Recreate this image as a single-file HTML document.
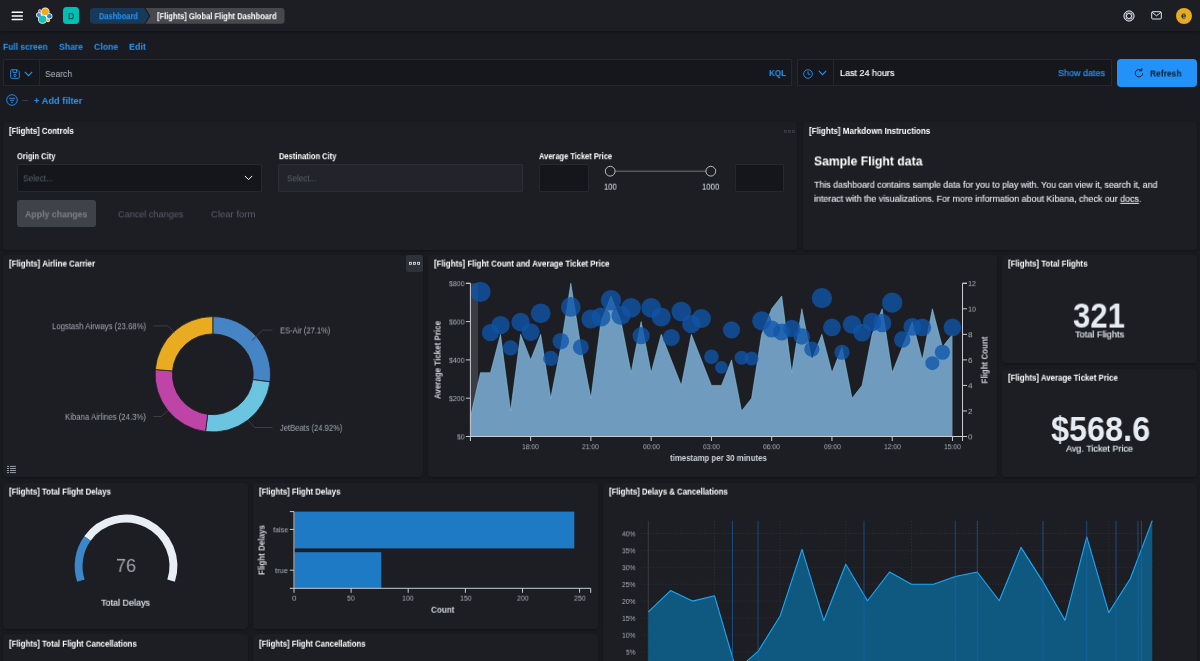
<!DOCTYPE html>
<html lang="en">
<head>
<meta charset="utf-8">
<title>[Flights] Global Flight Dashboard - Kibana</title>
<style>
*{box-sizing:border-box;margin:0;padding:0}
html,body{width:1200px;height:661px;overflow:hidden;background:#1a1b20;color:#dfe5ef;
  font-family:"Liberation Sans",sans-serif;font-size:9px;-webkit-font-smoothing:antialiased}
.abs{position:absolute}
#app{position:relative;width:1200px;height:661px;overflow:hidden}
/* header */
#hdr{position:absolute;left:0;top:0;width:1200px;height:31px;background:#1d1e24;box-shadow:0 1px 3px rgba(0,0,0,.45)}
.t{position:absolute;white-space:nowrap;line-height:1;will-change:transform;transform-origin:2px 50%;padding:1px 2px;margin:-1px -2px}
.link{color:#2394f8}
.b{font-weight:700}
.panel{position:absolute;background:#1d1e24;border-radius:4px;box-shadow:0 1px 3px rgba(0,0,0,.35);overflow:hidden}
.field{position:absolute;background:#16171c;border:1px solid #26282f;border-radius:1px}
svg{position:absolute;overflow:visible}
svg text{font-family:"Liberation Sans",sans-serif}
</style>
</head>
<body>
<div id="app">

<!-- ===== HEADER ===== -->
<div id="hdr">
  <svg style="left:10.800px;top:11.200px" width="13" height="10" viewBox="0 0 13 10"><g fill="#fff"><rect x="0.5" y="0.6" width="11.5" height="1.5" rx=".7"/><rect x="0.5" y="4.2" width="11.5" height="1.5" rx=".7"/><rect x="0.5" y="7.8" width="11.5" height="1.5" rx=".7"/></g></svg>
  <!-- elastic logo -->
  <svg style="left:0;top:0" width="60" height="31" viewBox="0 0 60 31">
    <circle cx="45.25" cy="11.75" r="4.30" fill="#fff"/>
    <circle cx="42.5" cy="19.2" r="4.50" fill="#fff"/>
    <circle cx="38.9" cy="15" r="2.80" fill="#fff"/>
    <circle cx="49.4" cy="16.3" r="3.00" fill="#fff"/>
    <circle cx="39.9" cy="11" r="1.70" fill="#fff"/>
    <circle cx="48" cy="20.3" r="2.00" fill="#fff"/>
    <circle cx="44.3" cy="15.6" r="3.5" fill="#fff"/>
    <circle cx="45.25" cy="11.75" r="3.6" fill="#f0ad1f"/>
    <circle cx="42.5" cy="19.2" r="3.8" fill="#18c3b3"/>
    <circle cx="38.9" cy="15" r="2.1" fill="#2a8fee"/>
    <circle cx="49.4" cy="16.3" r="2.3" fill="#2f7fd6"/>
    <circle cx="39.9" cy="11" r="1.0" fill="#d63fae"/>
    <circle cx="48" cy="20.3" r="1.3" fill="#f0ad1f"/>
  </svg>
  <div class="abs" style="left:63.1px;top:7.200px;width:16.400px;height:16.800px;border-radius:3.500px;background:#00bfb3"></div>
  <!-- breadcrumbs -->
  <svg style="left:90px;top:7.700px" width="200" height="16" viewBox="0 0 200 16">
    <path d="M4 0H54L59 7.900L54 15.800H4Q0 15.800 0 11.800V4Q0 0 4 0Z" fill="#173a5a"/>
    <path d="M55.500 0H191.500Q194.500 0 194.500 3V12.800Q194.500 15.800 191.500 15.800H55.500L60.500 7.900Z" fill="#47484e"/>
  </svg>
  <!-- right icons -->
  <svg style="left:1123.300px;top:9.600px" width="12" height="12" viewBox="0 0 12 12" fill="none" stroke="#dfe5ef" stroke-width="1"><circle cx="6" cy="6" r="3.900" stroke="#aeb3bd" stroke-opacity=".4" stroke-width="1.800"/><circle cx="6" cy="6" r="5.100"/><circle cx="6" cy="6" r="2.600"/><path d="M2.400 2.400l2 2M9.600 2.400l-2 2M2.400 9.600l2-2M9.600 9.600l-2-2" stroke-width=".7"/></svg>
  <svg style="left:1150.800px;top:11.400px" width="12" height="10" viewBox="0 0 12 10" fill="none" stroke="#dfe5ef" stroke-width="1"><rect x=".7" y=".7" width="9.600" height="7.300" rx="1"/><path d="M1 1.200l4.500 3.600 4.500-3.600"/></svg>
  <div class="abs" style="left:1175.500px;top:7.800px;width:16px;height:16px;border-radius:8px;background:#e7ab22"></div>
</div>

<!-- HDRTXT -->

<!-- ===== QUERY BAR ===== -->
<div class="field" style="left:2.9px;top:59.3px;width:788.8px;height:26.7px"></div>
<div class="abs" style="left:38.800px;top:60.3px;width:1px;height:24.7px;background:#24262d"></div>
<svg style="left:10px;top:68.5px" width="10" height="10" viewBox="0 0 10 10" fill="none" stroke="#2394f8" stroke-width=".9"><path d="M.7 1.5Q.7.7 1.5.7H7.2L9.3 2.8V8.5Q9.3 9.3 8.5 9.3H1.500Q.7 9.300.7 8.5Z"/><path d="M3 .9V3.600H6.600V.9"/><circle cx="5" cy="6.400" r="1.1"/></svg>
<svg style="left:24px;top:71px" width="9" height="6" viewBox="0 0 9 6" fill="none" stroke="#2394f8" stroke-width="1.1"><path d="M.8.900l3.700 3.700L8.200.9"/></svg>

<!-- date picker -->
<div class="field" style="left:797.2px;top:59.3px;width:315px;height:26.7px"></div>
<div class="abs" style="left:833px;top:60.3px;width:1px;height:24.7px;background:#24262d"></div>
<svg style="left:803.3px;top:68.700px" width="10" height="10" viewBox="0 0 10 10" fill="none" stroke="#2394f8" stroke-width=".9"><circle cx="5" cy="5" r="4.300"/><path d="M5 2.300V5.200H7.300"/></svg>
<svg style="left:817.700px;top:70px" width="9" height="6" viewBox="0 0 9 6" fill="none" stroke="#2394f8" stroke-width="1.1"><path d="M.8.900l3.700 3.700L8.200.9"/></svg>

<!-- refresh -->
<div class="abs" style="left:1117.1px;top:58.800px;width:80.200px;height:27.800px;border-radius:4px;background:#2292f9"></div>
<svg style="left:1134px;top:67.600px" width="10" height="10" viewBox="0 0 10 10" fill="none" stroke="#0b1b2c" stroke-width="1"><path d="M8.700 5.200A3.700 3.700 0 1 1 7.300 2.300"/><path d="M7.800.3V2.800H5.300" /></svg>

<!-- filter row -->
<svg style="left:6px;top:94px" width="12" height="12" viewBox="0 0 12 12" fill="none" stroke="#2394f8" stroke-width=".9"><circle cx="6" cy="6" r="5.300"/><path d="M3 4.300H9M4 6.300H8M5.200 8.300H6.800"/></svg>
<div class="abs" style="left:22px;top:99.500px;width:6px;height:1px;background:#3a3c45"></div>

<!-- PANELS_BEGIN -->
<div class="t" style="left:68.38px;top:12px;font-size:8.63px;color:#16223f;transform:translateY(0.19px) rotate(.02deg);-webkit-text-stroke:0.1px #16223f;">D</div>
<div class="t" style="left:98.75px;top:12px;font-size:8.42px;color:#2394f8;transform:translateY(0.21px) rotate(.02deg) scaleX(0.8868);font-weight:700;">Dashboard</div>
<div class="t" style="left:157.00px;top:12px;font-size:8.42px;color:#fff;transform:translateY(0.21px) rotate(.02deg) scaleX(0.8983);font-weight:700;">[Flights] Global Flight Dashboard</div>
<div class="t" style="left:1181.14px;top:10px;font-size:9.57px;color:#1b2748;transform:translateY(0.63px) rotate(.02deg);font-weight:700;">e</div>
<div class="t" style="left:3.40px;top:42px;font-size:8.94px;color:#2394f8;transform:translateY(0.80px) rotate(.02deg) scaleX(0.9470);font-weight:700;">Full screen</div>
<div class="t" style="left:59.00px;top:42px;font-size:8.94px;color:#2394f8;transform:translateY(0.80px) rotate(.02deg) scaleX(0.9699);font-weight:700;">Share</div>
<div class="t" style="left:94.00px;top:42px;font-size:8.94px;color:#2394f8;transform:translateY(0.80px) rotate(.02deg) scaleX(0.9785);font-weight:700;">Clone</div>
<div class="t" style="left:129.20px;top:42px;font-size:8.94px;color:#2394f8;transform:translateY(0.80px) rotate(.02deg) scaleX(0.9949);font-weight:700;">Edit</div>
<div class="t" style="left:45.00px;top:69px;font-size:9.36px;color:#b4b9c4;transform:translateY(0.95px) rotate(.02deg) scaleX(0.9171);">Search</div>
<div class="t" style="left:768.50px;top:69px;font-size:8.63px;color:#2394f8;transform:translateY(0.09px) rotate(.02deg) scaleX(0.9332);font-weight:700;">KQL</div>
<div class="t" style="left:839.50px;top:69px;font-size:9.36px;color:#fff;transform:translateY(0.05px) rotate(.02deg) scaleX(0.9609);-webkit-text-stroke:0.15px #fff;">Last 24 hours</div>
<div class="t" style="left:1058.00px;top:69px;font-size:9.36px;color:#2394f8;transform:translateY(0.15px) rotate(.02deg) scaleX(0.9609);-webkit-text-stroke:0.2px #2394f8;">Show dates</div>
<div class="t" style="left:1149.50px;top:69px;font-size:9.15px;color:#0b1b2c;transform:translateY(0.58px) rotate(.02deg) scaleX(0.9245);font-weight:700;">Refresh</div>
<div class="t" style="left:34.00px;top:96px;font-size:8.94px;color:#2394f8;transform:translateY(0.90px) rotate(.02deg) scaleX(1.0384);font-weight:700;">+ Add filter</div>
<div class="panel" style="left:3.2px;top:122px;width:794.2px;height:127.5px"></div>
<div class="panel" style="left:802.6px;top:122px;width:394.4px;height:127.5px"></div>
<div class="panel" style="left:3.2px;top:254.6px;width:419.6px;height:222.8px"></div>
<div class="panel" style="left:427.9px;top:254.6px;width:569.3px;height:222.8px"></div>
<div class="panel" style="left:1002.4px;top:254.6px;width:194.6px;height:108.1px"></div>
<div class="panel" style="left:1002.4px;top:368.6px;width:194.6px;height:108.8px"></div>
<div class="panel" style="left:3.2px;top:482.7px;width:244.6px;height:146.6px"></div>
<div class="panel" style="left:253px;top:482.7px;width:344.5px;height:146.6px"></div>
<div class="panel" style="left:602.7px;top:482.7px;width:594.3px;height:217.3px"></div>
<div class="panel" style="left:3.2px;top:634.4px;width:244.6px;height:65.6px"></div>
<div class="panel" style="left:253px;top:634.4px;width:344.5px;height:65.6px"></div>
<div class="t" style="left:9.20px;top:126px;font-size:8.42px;color:#fff;transform:translateY(0.91px) rotate(.02deg) scaleX(0.9265);font-weight:700;">[Flights] Controls</div>
<div class="t" style="left:808.70px;top:126px;font-size:8.42px;color:#fff;transform:translateY(0.91px) rotate(.02deg) scaleX(0.9514);font-weight:700;">[Flights] Markdown Instructions</div>
<div class="t" style="left:9.20px;top:259px;font-size:8.42px;color:#fff;transform:translateY(0.61px) rotate(.02deg) scaleX(0.9432);font-weight:700;">[Flights] Airline Carrier</div>
<div class="t" style="left:433.80px;top:259px;font-size:8.42px;color:#fff;transform:translateY(0.61px) rotate(.02deg) scaleX(0.9415);font-weight:700;">[Flights] Flight Count and Average Ticket Price</div>
<div class="t" style="left:1008.20px;top:259px;font-size:8.42px;color:#fff;transform:translateY(0.61px) rotate(.02deg) scaleX(0.9380);font-weight:700;">[Flights] Total Flights</div>
<div class="t" style="left:1008.20px;top:373px;font-size:8.42px;color:#fff;transform:translateY(0.71px) rotate(.02deg) scaleX(0.9353);font-weight:700;">[Flights] Average Ticket Price</div>
<div class="t" style="left:9.20px;top:487px;font-size:8.42px;color:#fff;transform:translateY(0.61px) rotate(.02deg) scaleX(0.9292);font-weight:700;">[Flights] Total Flight Delays</div>
<div class="t" style="left:258.50px;top:487px;font-size:8.42px;color:#fff;transform:translateY(0.61px) rotate(.02deg) scaleX(0.9267);font-weight:700;">[Flights] Flight Delays</div>
<div class="t" style="left:608.80px;top:487px;font-size:8.42px;color:#fff;transform:translateY(0.61px) rotate(.02deg) scaleX(0.9282);font-weight:700;">[Flights] Delays &amp; Cancellations</div>
<div class="t" style="left:9.20px;top:639px;font-size:8.42px;color:#fff;transform:translateY(0.71px) rotate(.02deg) scaleX(0.9318);font-weight:700;">[Flights] Total Flight Cancellations</div>
<div class="t" style="left:258.50px;top:639px;font-size:8.42px;color:#fff;transform:translateY(0.71px) rotate(.02deg) scaleX(0.9235);font-weight:700;">[Flights] Flight Cancellations</div>
<div class="abs" style="left:406px;top:255.3px;width:16.7px;height:16.7px;border-radius:2px;background:#2f3139"></div>
<svg style="left:406px;top:255.3px" width="17" height="17" viewBox="0 0 17 17" fill="none" stroke="#e6e9ef" stroke-width=".8"><rect x="3.4" y="7.3" width="2" height="2"/><rect x="7.5" y="7.3" width="2" height="2"/><rect x="11.600" y="7.3" width="2" height="2"/></svg>
<svg style="left:781px;top:122.500px" width="17" height="17" viewBox="0 0 17 17" fill="none" stroke="#44464e" stroke-width=".7"><rect x="3.4" y="7.3" width="2" height="2"/><rect x="7.5" y="7.3" width="2" height="2"/><rect x="11.600" y="7.3" width="2" height="2"/></svg>
<div class="t" style="left:17.00px;top:152px;font-size:8.42px;color:#fff;transform:translateY(0.21px) rotate(.02deg) scaleX(0.8946);font-weight:700;">Origin City</div>
<div class="t" style="left:278.50px;top:152px;font-size:8.42px;color:#fff;transform:translateY(0.21px) rotate(.02deg) scaleX(0.8971);font-weight:700;">Destination City</div>
<div class="t" style="left:539.30px;top:152px;font-size:8.42px;color:#fff;transform:translateY(0.21px) rotate(.02deg) scaleX(0.8886);font-weight:700;">Average Ticket Price</div>
<div class="field" style="left:17px;top:164px;width:244.5px;height:27.500px;background:#15161b;border-color:#26282f"></div>
<div class="field" style="left:278px;top:164px;width:244.5px;height:27.500px;background:#23242b;border-color:#2c2e35"></div>
<div class="field" style="left:539.2px;top:164px;width:50px;height:27.500px;background:#15161b;border-color:#26282f"></div>
<div class="field" style="left:734.5px;top:164px;width:49.5px;height:27.500px;background:#15161b;border-color:#26282f"></div>
<div class="t" style="left:22.50px;top:174px;font-size:9.36px;color:#595e69;transform:translateY(0.35px) rotate(.02deg) scaleX(0.8872);">Select...</div>
<div class="t" style="left:286.50px;top:174px;font-size:9.36px;color:#595e69;transform:translateY(0.35px) rotate(.02deg) scaleX(0.8724);">Select...</div>
<svg style="left:243.500px;top:175px" width="9" height="6" viewBox="0 0 9 6" fill="none" stroke="#fff" stroke-width="1"><path d="M.8.900l3.700 3.700L8.200.9"/></svg>
<svg style="left:600px;top:164px" width="125" height="14" viewBox="0 0 125 14" fill="none"><path d="M15 7.300H106" stroke="#54565e" stroke-width="1.4"/><circle cx="10.200" cy="7.200" r="4.900" stroke="#c9ccd3" stroke-width=".9" fill="#1d1e24"/><circle cx="110.800" cy="7.200" r="4.900" stroke="#c9ccd3" stroke-width=".9" fill="#1d1e24"/></svg>
<div class="t" style="left:604.00px;top:182px;font-size:8.63px;color:#dfe5ef;transform:translateY(0.69px) rotate(.02deg) scaleX(0.8889);">100</div>
<div class="t" style="left:702.20px;top:182px;font-size:8.63px;color:#dfe5ef;transform:translateY(0.69px) rotate(.02deg) scaleX(0.9011);">1000</div>
<div class="abs" style="left:17px;top:200px;width:78.500px;height:26.500px;border-radius:3px;background:#404249"></div>
<div class="t" style="left:25.00px;top:210px;font-size:9.36px;color:#7b7f88;transform:translateY(0.35px) rotate(.02deg) scaleX(0.9388);font-weight:700;">Apply changes</div>
<div class="t" style="left:117.50px;top:210px;font-size:9.36px;color:#595d67;transform:translateY(0.35px) rotate(.02deg) scaleX(0.9758);">Cancel changes</div>
<div class="t" style="left:210.50px;top:210px;font-size:9.36px;color:#595d67;transform:translateY(0.35px) rotate(.02deg) scaleX(1.0186);">Clear form</div>
<div class="t" style="left:813.90px;top:154px;font-size:13.52px;color:#fff;transform:translateY(0.44px) rotate(.02deg) scaleX(0.9027);font-weight:700;">Sample Flight data</div>
<div class="t" style="left:813.90px;top:180px;font-size:9.36px;color:#e4e8ee;transform:translateY(0.75px) rotate(.02deg) scaleX(0.9432);-webkit-text-stroke:0.12px #e4e8ee;">This dashboard contains sample data for you to play with. You can view it, search it, and</div>
<div class="t" style="left:813.90px;top:194px;font-size:9.36px;color:#e4e8ee;transform:translateY(0.75px) rotate(.02deg) scaleX(0.9523);-webkit-text-stroke:0.12px #e4e8ee;">interact with the visualizations. For more information about Kibana, check our <span style="text-decoration:underline">docs</span>.</div>
<div class="t" style="left:1073.00px;top:298px;font-size:34.63px;color:#e8ebf2;transform:translateY(0.60px) rotate(.02deg) scaleX(0.9000);font-weight:700;">321</div>
<div class="t" style="left:1075.40px;top:329px;font-size:9.67px;color:#e4e8ee;transform:translateY(0.46px) rotate(.02deg) scaleX(0.9536);-webkit-text-stroke:0.15px #e4e8ee;">Total Flights</div>
<div class="t" style="left:1050.70px;top:411px;font-size:34.63px;color:#e8ebf2;transform:translateY(1.00px) rotate(.02deg) scaleX(0.9365);font-weight:700;">$568.6</div>
<div class="t" style="left:1066.45px;top:443px;font-size:9.67px;color:#e4e8ee;transform:translateY(0.66px) rotate(.02deg) scaleX(0.9341);-webkit-text-stroke:0.15px #e4e8ee;">Avg. Ticket Price</div>
<svg style="left:0;top:0" width="1200" height="661" viewBox="0 0 1200 661">
<path d="M212.80 316.60A57.7 57.7 0 0 1 270.00 381.89L252.85 379.62A40.4 40.4 0 0 0 212.80 333.90Z" fill="#4585c5" stroke="#1d1e24" stroke-width=".8"/>
<path d="M270.00 381.89A57.7 57.7 0 0 1 205.50 431.54L207.69 414.38A40.4 40.4 0 0 0 252.85 379.62Z" fill="#6cc5e0" stroke="#1d1e24" stroke-width=".8"/>
<path d="M205.50 431.54A57.7 57.7 0 0 1 155.30 369.52L172.54 370.95A40.4 40.4 0 0 0 207.69 414.38Z" fill="#bf44a8" stroke="#1d1e24" stroke-width=".8"/>
<path d="M155.30 369.52A57.7 57.7 0 0 1 212.80 316.60L212.80 333.90A40.4 40.4 0 0 0 172.54 370.95Z" fill="#e9ac20" stroke="#1d1e24" stroke-width=".8"/>
<polyline points="153.3 325.9 168 325.9 174.1 332.5" fill="none" stroke="#3b3d45" stroke-width="1"/>
<polyline points="272.5 330.1 262.7 330.1 252 340.5" fill="none" stroke="#3b3d45" stroke-width="1"/>
<polyline points="153.3 416.5 161.3 416.5 168 410.7" fill="none" stroke="#3b3d45" stroke-width="1"/>
<polyline points="272.5 427.5 254.7 427.5 248 420" fill="none" stroke="#3b3d45" stroke-width="1"/>
<g stroke="#a9adb6" stroke-width=".9"><path d="M10 466.400H15.900M10 468.500H15.900M10 470.500H15.900M10 472.600H15.900"/><path d="M7 466.400H9.100M7 468.500H9.100M7 470.500H9.100M7 472.600H9.100"/></g>
</svg>
<div class="t" style="left:52.00px;top:322px;font-size:9.36px;color:#a3a6af;transform:translateY(0.25px) rotate(.02deg) scaleX(0.8323);">Logstash Airways (23.68%)</div>
<div class="t" style="left:279.50px;top:326px;font-size:9.36px;color:#a3a6af;transform:translateY(0.45px) rotate(.02deg) scaleX(0.8074);">ES-Air (27.1%)</div>
<div class="t" style="left:65.30px;top:412px;font-size:9.36px;color:#a3a6af;transform:translateY(0.85px) rotate(.02deg) scaleX(0.8335);">Kibana Airlines (24.3%)</div>
<div class="t" style="left:279.50px;top:423px;font-size:9.36px;color:#a3a6af;transform:translateY(0.85px) rotate(.02deg) scaleX(0.8104);">JetBeats (24.92%)</div>
<svg style="left:0;top:0" width="1200" height="661" viewBox="0 0 1200 661">
<rect x="470.400" y="283.300" width="7.600" height="153.200" fill="#3b3d43"/>
<polygon points="470.40,436.5 470.40,417.35 480.44,372.65 490.49,372.65 500.53,334.34 510.57,410.96 520.62,334.34 530.66,359.88 540.70,334.34 550.74,398.19 560.79,347.11 570.83,283.26 580.87,347.11 590.92,398.19 600.96,321.57 611.00,296.03 621.04,321.57 631.09,372.65 641.13,321.57 651.17,372.65 661.22,334.34 671.26,359.88 681.30,385.42 691.35,334.34 701.39,359.88 711.43,385.42 721.47,385.42 731.52,359.88 741.56,410.96 751.60,398.19 761.65,334.34 771.69,308.80 781.73,296.03 791.78,372.65 801.82,308.80 811.86,359.88 821.90,334.34 831.95,372.65 841.99,347.11 852.03,398.19 862.08,385.42 872.12,334.34 882.16,308.80 892.21,372.65 902.25,347.11 912.29,321.57 922.33,359.88 932.38,308.80 942.42,347.11 952.46,334.34 952.46,436.5" fill="#6f9bbe"/>
<polyline points="470.40,417.35 480.44,372.65 490.49,372.65 500.53,334.34 510.57,410.96 520.62,334.34 530.66,359.88 540.70,334.34 550.74,398.19 560.79,347.11 570.83,283.26 580.87,347.11 590.92,398.19 600.96,321.57 611.00,296.03 621.04,321.57 631.09,372.65 641.13,321.57 651.17,372.65 661.22,334.34 671.26,359.88 681.30,385.42 691.35,334.34 701.39,359.88 711.43,385.42 721.47,385.42 731.52,359.88 741.56,410.96 751.60,398.19 761.65,334.34 771.69,308.80 781.73,296.03 791.78,372.65 801.82,308.80 811.86,359.88 821.90,334.34 831.95,372.65 841.99,347.11 852.03,398.19 862.08,385.42 872.12,334.34 882.16,308.80 892.21,372.65 902.25,347.11 912.29,321.57 922.33,359.88 932.38,308.80 942.42,347.11 952.46,334.34" fill="none" stroke="#8fd6f2" stroke-width=".6" stroke-opacity=".8"/>
<circle cx="480.44" cy="291.80" r="10.17" fill="#1056aa" fill-opacity=".78"/>
<circle cx="490.49" cy="332.67" r="8.58" fill="#1056aa" fill-opacity=".78"/>
<circle cx="500.53" cy="325.10" r="9.22" fill="#1056aa" fill-opacity=".78"/>
<circle cx="510.57" cy="347.81" r="7.63" fill="#1056aa" fill-opacity=".78"/>
<circle cx="520.62" cy="322.07" r="9.22" fill="#1056aa" fill-opacity=".78"/>
<circle cx="530.66" cy="332.06" r="8.90" fill="#1056aa" fill-opacity=".78"/>
<circle cx="540.70" cy="313.29" r="9.85" fill="#1056aa" fill-opacity=".78"/>
<circle cx="550.74" cy="358.40" r="7.63" fill="#1056aa" fill-opacity=".78"/>
<circle cx="560.79" cy="341.15" r="8.27" fill="#1056aa" fill-opacity=".78"/>
<circle cx="570.83" cy="306.94" r="9.85" fill="#1056aa" fill-opacity=".78"/>
<circle cx="580.87" cy="347.20" r="7.95" fill="#1056aa" fill-opacity=".78"/>
<circle cx="590.92" cy="319.05" r="9.54" fill="#1056aa" fill-opacity=".78"/>
<circle cx="600.96" cy="316.93" r="9.54" fill="#1056aa" fill-opacity=".78"/>
<circle cx="611.00" cy="300.28" r="10.17" fill="#1056aa" fill-opacity=".78"/>
<circle cx="621.04" cy="315.41" r="9.54" fill="#1056aa" fill-opacity=".78"/>
<circle cx="631.09" cy="307.84" r="9.85" fill="#1056aa" fill-opacity=".78"/>
<circle cx="641.13" cy="335.70" r="8.58" fill="#1056aa" fill-opacity=".78"/>
<circle cx="651.17" cy="307.84" r="9.85" fill="#1056aa" fill-opacity=".78"/>
<circle cx="661.22" cy="316.93" r="9.54" fill="#1056aa" fill-opacity=".78"/>
<circle cx="671.26" cy="337.51" r="8.58" fill="#1056aa" fill-opacity=".78"/>
<circle cx="681.30" cy="311.48" r="9.85" fill="#1056aa" fill-opacity=".78"/>
<circle cx="691.35" cy="323.89" r="9.22" fill="#1056aa" fill-opacity=".78"/>
<circle cx="701.39" cy="318.44" r="9.54" fill="#1056aa" fill-opacity=".78"/>
<circle cx="711.43" cy="356.79" r="7.30" fill="#1056aa" fill-opacity=".78"/>
<circle cx="721.47" cy="367.37" r="6.35" fill="#1056aa" fill-opacity=".78"/>
<circle cx="731.52" cy="329.87" r="8.57" fill="#1056aa" fill-opacity=".78"/>
<circle cx="741.56" cy="357.69" r="6.99" fill="#1056aa" fill-opacity=".78"/>
<circle cx="751.60" cy="358.60" r="6.99" fill="#1056aa" fill-opacity=".78"/>
<circle cx="761.65" cy="320.80" r="9.53" fill="#1056aa" fill-opacity=".78"/>
<circle cx="771.69" cy="328.97" r="8.57" fill="#1056aa" fill-opacity=".78"/>
<circle cx="781.73" cy="331.99" r="8.57" fill="#1056aa" fill-opacity=".78"/>
<circle cx="791.78" cy="328.36" r="8.57" fill="#1056aa" fill-opacity=".78"/>
<circle cx="801.82" cy="336.53" r="8.26" fill="#1056aa" fill-opacity=".78"/>
<circle cx="811.86" cy="349.23" r="7.62" fill="#1056aa" fill-opacity=".78"/>
<circle cx="821.90" cy="298.12" r="10.16" fill="#1056aa" fill-opacity=".78"/>
<circle cx="831.95" cy="327.45" r="8.89" fill="#1056aa" fill-opacity=".78"/>
<circle cx="841.99" cy="352.25" r="7.62" fill="#1056aa" fill-opacity=".78"/>
<circle cx="852.03" cy="324.43" r="9.21" fill="#1056aa" fill-opacity=".78"/>
<circle cx="862.08" cy="332.59" r="8.89" fill="#1056aa" fill-opacity=".78"/>
<circle cx="872.12" cy="322.01" r="9.21" fill="#1056aa" fill-opacity=".78"/>
<circle cx="882.16" cy="322.92" r="9.21" fill="#1056aa" fill-opacity=".78"/>
<circle cx="892.21" cy="302.66" r="10.16" fill="#1056aa" fill-opacity=".78"/>
<circle cx="902.25" cy="339.55" r="8.26" fill="#1056aa" fill-opacity=".78"/>
<circle cx="912.29" cy="326.85" r="8.89" fill="#1056aa" fill-opacity=".78"/>
<circle cx="922.33" cy="327.45" r="8.89" fill="#1056aa" fill-opacity=".78"/>
<circle cx="932.38" cy="363.14" r="6.99" fill="#1056aa" fill-opacity=".78"/>
<circle cx="942.42" cy="352.25" r="7.62" fill="#1056aa" fill-opacity=".78"/>
<circle cx="952.46" cy="327.45" r="8.89" fill="#1056aa" fill-opacity=".78"/>
<path d="M465.900 283.300H470.400V436.500H962.500V283.300H967" fill="none" stroke="#c9ccd3" stroke-width="1"/>
<path d="M465.900 436.50H470.400" stroke="#c9ccd3" stroke-width="1"/>
<path d="M465.900 398.20H470.400" stroke="#c9ccd3" stroke-width="1"/>
<path d="M465.900 359.90H470.400" stroke="#c9ccd3" stroke-width="1"/>
<path d="M465.900 321.60H470.400" stroke="#c9ccd3" stroke-width="1"/>
<path d="M465.900 283.30H470.400" stroke="#c9ccd3" stroke-width="1"/>
<path d="M962.500 436.50H967" stroke="#c9ccd3" stroke-width="1"/>
<path d="M962.500 410.96H967" stroke="#c9ccd3" stroke-width="1"/>
<path d="M962.500 385.42H967" stroke="#c9ccd3" stroke-width="1"/>
<path d="M962.500 359.88H967" stroke="#c9ccd3" stroke-width="1"/>
<path d="M962.500 334.34H967" stroke="#c9ccd3" stroke-width="1"/>
<path d="M962.500 308.80H967" stroke="#c9ccd3" stroke-width="1"/>
<path d="M962.500 283.26H967" stroke="#c9ccd3" stroke-width="1"/>
<path d="M470.40 436.500V441" stroke="#c9ccd3" stroke-width="1"/>
<path d="M530.66 436.500V441" stroke="#c9ccd3" stroke-width="1"/>
<path d="M590.92 436.500V441" stroke="#c9ccd3" stroke-width="1"/>
<path d="M651.17 436.500V441" stroke="#c9ccd3" stroke-width="1"/>
<path d="M711.43 436.500V441" stroke="#c9ccd3" stroke-width="1"/>
<path d="M771.69 436.500V441" stroke="#c9ccd3" stroke-width="1"/>
<path d="M831.95 436.500V441" stroke="#c9ccd3" stroke-width="1"/>
<path d="M892.21 436.500V441" stroke="#c9ccd3" stroke-width="1"/>
<path d="M952.46 436.500V441" stroke="#c9ccd3" stroke-width="1"/>
<path d="M962.500 436.500V441" stroke="#c9ccd3" stroke-width="1"/>
</svg>
<div class="t" style="left:456.70px;top:433px;font-size:8.11px;color:#abafb8;transform:translateY(0.40px) rotate(.02deg) scaleX(0.8314);">$0</div>
<div class="t" style="left:448.70px;top:395px;font-size:8.11px;color:#abafb8;transform:translateY(0.10px) rotate(.02deg) scaleX(0.8591);">$200</div>
<div class="t" style="left:448.70px;top:356px;font-size:8.11px;color:#abafb8;transform:translateY(0.80px) rotate(.02deg) scaleX(0.8591);">$400</div>
<div class="t" style="left:448.70px;top:318px;font-size:8.11px;color:#abafb8;transform:translateY(0.50px) rotate(.02deg) scaleX(0.8591);">$600</div>
<div class="t" style="left:448.70px;top:280px;font-size:8.11px;color:#abafb8;transform:translateY(0.20px) rotate(.02deg) scaleX(0.8591);">$800</div>
<div class="t" style="left:968.20px;top:433px;font-size:8.11px;color:#abafb8;transform:translateY(0.40px) rotate(.02deg);">0</div>
<div class="t" style="left:968.20px;top:407px;font-size:8.11px;color:#abafb8;transform:translateY(0.86px) rotate(.02deg);">2</div>
<div class="t" style="left:968.20px;top:382px;font-size:8.11px;color:#abafb8;transform:translateY(0.32px) rotate(.02deg);">4</div>
<div class="t" style="left:968.20px;top:356px;font-size:8.11px;color:#abafb8;transform:translateY(0.78px) rotate(.02deg);">6</div>
<div class="t" style="left:968.20px;top:331px;font-size:8.11px;color:#abafb8;transform:translateY(0.24px) rotate(.02deg);">8</div>
<div class="t" style="left:968.20px;top:305px;font-size:8.11px;color:#abafb8;transform:translateY(0.70px) rotate(.02deg) scaleX(0.8757);">10</div>
<div class="t" style="left:968.20px;top:280px;font-size:8.11px;color:#abafb8;transform:translateY(0.16px) rotate(.02deg) scaleX(0.8757);">12</div>
<div class="t" style="left:522.21px;top:443px;font-size:8.11px;color:#abafb8;transform:translateY(0.20px) rotate(.02deg) scaleX(0.8327);">18:00</div>
<div class="t" style="left:582.47px;top:443px;font-size:8.11px;color:#abafb8;transform:translateY(0.20px) rotate(.02deg) scaleX(0.8327);">21:00</div>
<div class="t" style="left:642.72px;top:443px;font-size:8.11px;color:#abafb8;transform:translateY(0.20px) rotate(.02deg) scaleX(0.8327);">00:00</div>
<div class="t" style="left:702.98px;top:443px;font-size:8.11px;color:#abafb8;transform:translateY(0.20px) rotate(.02deg) scaleX(0.8327);">03:00</div>
<div class="t" style="left:763.24px;top:443px;font-size:8.11px;color:#abafb8;transform:translateY(0.20px) rotate(.02deg) scaleX(0.8327);">06:00</div>
<div class="t" style="left:823.50px;top:443px;font-size:8.11px;color:#abafb8;transform:translateY(0.20px) rotate(.02deg) scaleX(0.8327);">09:00</div>
<div class="t" style="left:883.76px;top:443px;font-size:8.11px;color:#abafb8;transform:translateY(0.20px) rotate(.02deg) scaleX(0.8327);">12:00</div>
<div class="t" style="left:944.01px;top:443px;font-size:8.11px;color:#abafb8;transform:translateY(0.20px) rotate(.02deg) scaleX(0.8327);">15:00</div>
<div class="t" style="left:670.00px;top:453px;font-size:8.84px;color:#ced1d8;transform:translateY(0.96px) rotate(.02deg) scaleX(0.8894);font-weight:700;">timestamp per 30 minutes</div>
<div class="t" style="left:437.9px;top:360.1px;font-size:8.84px;font-weight:700;color:#ced1d8;margin:0;transform-origin:50% 50%;transform:translate(-50%,-50%) rotate(-90deg) scaleX(0.9042)">Average Ticket Price</div>
<div class="t" style="left:984.5px;top:360px;font-size:8.84px;font-weight:700;color:#ced1d8;margin:0;transform-origin:50% 50%;transform:translate(-50%,-50%) rotate(-90deg) scaleX(0.9032)">Flight Count</div>
<svg style="left:0;top:0" width="1200" height="661" viewBox="0 0 1200 661" fill="none"><path d="M87.41 538.47A47.4 47.4 0 0 1 171.08 580.65" stroke="#e9edf4" stroke-width="7.9"/><path d="M80.92 580.65A47.4 47.4 0 0 1 87.41 538.47" stroke="#3d86c8" stroke-width="7.9"/></svg>
<div class="t" style="left:116.00px;top:555px;font-size:19.24px;color:#a2a5ad;transform:translateY(0.89px) rotate(.02deg) scaleX(0.9345);">76</div>
<div class="t" style="left:101.00px;top:597px;font-size:9.88px;color:#e4e8ee;transform:translateY(0.74px) rotate(.02deg) scaleX(0.9105);-webkit-text-stroke:0.15px #e4e8ee;">Total Delays</div>
<svg style="left:0;top:0" width="1200" height="661" viewBox="0 0 1200 661">
<rect x="294.600" y="511.600" width="279.700" height="36.800" fill="#1f7ac6"/>
<rect x="294.600" y="552.200" width="86.700" height="36.100" fill="#1f7ac6"/>
<path d="M289.800 511.600H294V588.300H590.700V592.800" fill="none" stroke="#c9ccd3" stroke-width="1"/>
<path d="M294.0 588.300V592.800" stroke="#c9ccd3" stroke-width="1"/>
<path d="M351.1 588.300V592.800" stroke="#c9ccd3" stroke-width="1"/>
<path d="M408.2 588.300V592.800" stroke="#c9ccd3" stroke-width="1"/>
<path d="M465.4 588.300V592.800" stroke="#c9ccd3" stroke-width="1"/>
<path d="M522.5 588.300V592.800" stroke="#c9ccd3" stroke-width="1"/>
<path d="M579.6 588.300V592.800" stroke="#c9ccd3" stroke-width="1"/>
<path d="M289.800 529.400H294M289.800 570.200H294M289.800 588.300H294" stroke="#c9ccd3" stroke-width="1"/>
</svg>
<div class="t" style="left:291.74px;top:594px;font-size:8.11px;color:#abafb8;transform:translateY(0.70px) rotate(.02deg);">0</div>
<div class="t" style="left:347.27px;top:594px;font-size:8.11px;color:#abafb8;transform:translateY(0.70px) rotate(.02deg) scaleX(0.8536);">50</div>
<div class="t" style="left:402.39px;top:594px;font-size:8.11px;color:#abafb8;transform:translateY(0.70px) rotate(.02deg) scaleX(0.8646);">100</div>
<div class="t" style="left:459.51px;top:594px;font-size:8.11px;color:#abafb8;transform:translateY(0.70px) rotate(.02deg) scaleX(0.8646);">150</div>
<div class="t" style="left:516.63px;top:594px;font-size:8.11px;color:#abafb8;transform:translateY(0.70px) rotate(.02deg) scaleX(0.8646);">200</div>
<div class="t" style="left:573.75px;top:594px;font-size:8.11px;color:#abafb8;transform:translateY(0.70px) rotate(.02deg) scaleX(0.8646);">250</div>
<div class="t" style="left:272.70px;top:526px;font-size:8.11px;color:#abafb8;transform:translateY(0.30px) rotate(.02deg) scaleX(0.9048);">false</div>
<div class="t" style="left:275.20px;top:567px;font-size:8.11px;color:#abafb8;transform:translateY(0.10px) rotate(.02deg) scaleX(0.9302);">true</div>
<div class="t" style="left:430.75px;top:605px;font-size:8.84px;color:#d0d3da;transform:translateY(0.76px) rotate(.02deg) scaleX(0.9205);font-weight:700;">Count</div>
<div class="t" style="left:262.2px;top:550.4px;font-size:8.84px;font-weight:700;color:#ced1d8;margin:0;transform-origin:50% 50%;transform:translate(-50%,-50%) rotate(-90deg) scaleX(0.9088)">Flight Delays</div>
<svg style="left:0;top:0" width="1200" height="661" viewBox="0 0 1200 661">
<path d="M641 651.80H1152.500" stroke="#2e3038" stroke-width=".8" stroke-dasharray="1.5 1.5"/>
<path d="M641 634.90H1152.500" stroke="#2e3038" stroke-width=".8" stroke-dasharray="1.5 1.5"/>
<path d="M641 618.00H1152.500" stroke="#2e3038" stroke-width=".8" stroke-dasharray="1.5 1.5"/>
<path d="M641 601.10H1152.500" stroke="#2e3038" stroke-width=".8" stroke-dasharray="1.5 1.5"/>
<path d="M641 584.20H1152.500" stroke="#2e3038" stroke-width=".8" stroke-dasharray="1.5 1.5"/>
<path d="M641 567.30H1152.500" stroke="#2e3038" stroke-width=".8" stroke-dasharray="1.5 1.5"/>
<path d="M641 550.40H1152.500" stroke="#2e3038" stroke-width=".8" stroke-dasharray="1.5 1.5"/>
<path d="M641 533.50H1152.500" stroke="#2e3038" stroke-width=".8" stroke-dasharray="1.5 1.5"/>
<path d="M714.5 520.800V661" stroke="#2e3038" stroke-width=".8" stroke-dasharray="1.5 1.5"/>
<path d="M780 520.800V661" stroke="#2e3038" stroke-width=".8" stroke-dasharray="1.5 1.5"/>
<path d="M845.75 520.800V661" stroke="#2e3038" stroke-width=".8" stroke-dasharray="1.5 1.5"/>
<path d="M911.5 520.800V661" stroke="#2e3038" stroke-width=".8" stroke-dasharray="1.5 1.5"/>
<path d="M977.25 520.800V661" stroke="#2e3038" stroke-width=".8" stroke-dasharray="1.5 1.5"/>
<path d="M1043 520.800V661" stroke="#2e3038" stroke-width=".8" stroke-dasharray="1.5 1.5"/>
<path d="M1108.75 520.800V661" stroke="#2e3038" stroke-width=".8" stroke-dasharray="1.5 1.5"/>
<path d="M648.300 520.800V661" stroke="#3d3f47" stroke-width=".9"/>
<polygon points="648.300,670 648.30,611.92 670.50,590.62 692.50,601.10 714.50,595.69 736.30,670.39 758.00,651.46 780.00,616.31 802.00,549.39 823.75,620.70 845.75,564.26 867.50,600.76 889.50,572.03 911.50,584.20 933.50,584.20 955.25,576.43 977.25,572.03 999.25,600.76 1021.00,547.36 1043.00,581.83 1065.00,620.37 1086.75,536.88 1108.75,612.59 1130.25,578.79 1152.25,520.66 1152.250,670" fill="#0f5c85" fill-opacity=".96"/>
<polyline points="648.30,611.92 670.50,590.62 692.50,601.10 714.50,595.69 736.30,670.39 758.00,651.46 780.00,616.31 802.00,549.39 823.75,620.70 845.75,564.26 867.50,600.76 889.50,572.03 911.50,584.20 933.50,584.20 955.25,576.43 977.25,572.03 999.25,600.76 1021.00,547.36 1043.00,581.83 1065.00,620.37 1086.75,536.88 1108.75,612.59 1130.25,578.79 1152.25,520.66" fill="none" stroke="#1ba9f5" stroke-width="1.1" stroke-linejoin="round"/>
<path d="M732.5 520.800V661" stroke="#1868b8" stroke-width="1" stroke-opacity=".6"/>
<path d="M758 520.800V661" stroke="#1868b8" stroke-width="1" stroke-opacity=".6"/>
<path d="M864 520.800V661" stroke="#1868b8" stroke-width="1" stroke-opacity=".6"/>
<path d="M955.25 520.800V661" stroke="#1868b8" stroke-width="1" stroke-opacity=".6"/>
<path d="M977.25 520.800V661" stroke="#1868b8" stroke-width="1" stroke-opacity=".6"/>
<path d="M1043 520.800V661" stroke="#1868b8" stroke-width="1" stroke-opacity=".6"/>
<path d="M1086.75 520.800V661" stroke="#1868b8" stroke-width="1" stroke-opacity=".6"/>
<path d="M1116 520.800V661" stroke="#1868b8" stroke-width="1" stroke-opacity=".6"/>
<path d="M1138 520.800V661" stroke="#1868b8" stroke-width="1" stroke-opacity=".6"/>
<path d="M1141.5 520.800V661" stroke="#1868b8" stroke-width="1" stroke-opacity=".6"/>
</svg>
<div class="t" style="left:625.50px;top:648px;font-size:8.11px;color:#abafb8;transform:translateY(0.70px) rotate(.02deg) scaleX(0.8105);">5%</div>
<div class="t" style="left:621.50px;top:631px;font-size:8.11px;color:#abafb8;transform:translateY(0.80px) rotate(.02deg) scaleX(0.8317);">10%</div>
<div class="t" style="left:621.50px;top:614px;font-size:8.11px;color:#abafb8;transform:translateY(0.90px) rotate(.02deg) scaleX(0.8317);">15%</div>
<div class="t" style="left:621.50px;top:598px;font-size:8.11px;color:#abafb8;transform:translateY(0.00px) rotate(.02deg) scaleX(0.8317);">20%</div>
<div class="t" style="left:621.50px;top:581px;font-size:8.11px;color:#abafb8;transform:translateY(0.10px) rotate(.02deg) scaleX(0.8317);">25%</div>
<div class="t" style="left:621.50px;top:564px;font-size:8.11px;color:#abafb8;transform:translateY(0.20px) rotate(.02deg) scaleX(0.8317);">30%</div>
<div class="t" style="left:621.50px;top:547px;font-size:8.11px;color:#abafb8;transform:translateY(0.30px) rotate(.02deg) scaleX(0.8317);">35%</div>
<div class="t" style="left:621.50px;top:530px;font-size:8.11px;color:#abafb8;transform:translateY(0.40px) rotate(.02deg) scaleX(0.8317);">40%</div>
<!-- PANELS_END -->

</div>
</body>
</html>
